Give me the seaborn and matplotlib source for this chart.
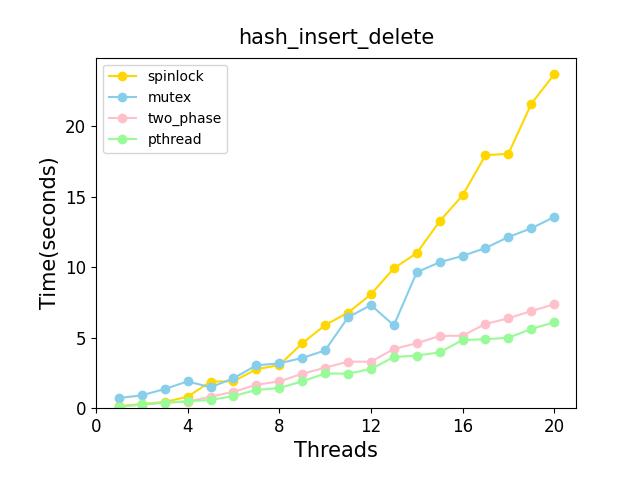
import pandas as pd
import matplotlib
matplotlib.use("Agg")
import matplotlib.pyplot as plt
import seaborn as sns

threads = list(range(1, 21))
spinlock = [0.14, 0.28, 0.43, 0.8, 1.87, 1.9, 2.75, 3.05, 4.59, 5.89,
            6.77, 8.07, 9.92, 11.0, 13.26, 15.1, 17.95, 18.05, 21.6, 23.7]
mutex = [0.71, 0.9, 1.35, 1.89, 1.47, 2.11, 3.03, 3.17, 3.55, 4.09,
         6.44, 7.31, 5.87, 9.64, 10.35, 10.8, 11.36, 12.14, 12.76, 13.56]
two_phase = [0.1, 0.24, 0.38, 0.45, 0.8, 1.15, 1.65, 1.89, 2.43, 2.86,
             3.29, 3.29, 4.19, 4.6, 5.11, 5.14, 5.97, 6.37, 6.89, 7.36]
pthread = [0.08, 0.25, 0.38, 0.48, 0.57, 0.85, 1.28, 1.42, 1.89, 2.45,
           2.44, 2.77, 3.62, 3.72, 3.95, 4.83, 4.88, 4.99, 5.61, 6.09]

series = {
    "spinlock": (spinlock, "gold"),
    "mutex": (mutex, "skyblue"),
    "two_phase": (two_phase, "pink"),
    "pthread": (pthread, "palegreen"),
}

fig, ax = plt.subplots(figsize=(6.4, 4.8), dpi=100)
fig.subplots_adjust(left=0.15, right=0.9, bottom=0.15, top=0.88)

for name, (vals, color) in series.items():
    df = pd.DataFrame({"Threads": threads, "Time": vals})
    sns.lineplot(data=df, x="Threads", y="Time", ax=ax, label=name,
                 color=color, marker="o", markersize=6,
                 markeredgecolor=color, markeredgewidth=1, linewidth=1.5)

ax.set_xlim(left=0)
ax.set_ylim(bottom=0)
ax.set_xticks([0, 4, 8, 12, 16, 20])
ax.set_title("hash_insert_delete", fontsize=15, pad=10)
ax.set_xlabel("Threads", fontsize=15)
ax.set_ylabel("Time(seconds)", fontsize=15)
ax.tick_params(labelsize=12)
ax.legend(loc="upper left", fontsize=10)

plt.savefig("out.png", dpi=100)
